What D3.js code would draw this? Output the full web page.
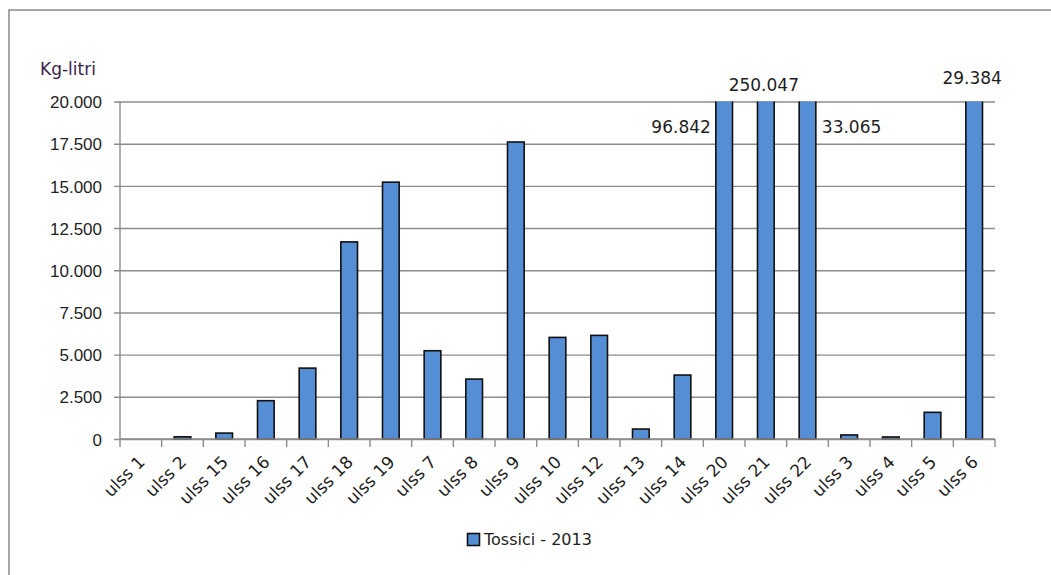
<!DOCTYPE html>
<html><head><meta charset="utf-8">
<script src="https://cdn.jsdelivr.net/npm/d3@7"></script>
<style>
html,body{margin:0;padding:0;background:#fff;}
svg{display:block;font-family:"DejaVu Sans",Verdana,sans-serif;}
</style></head>
<body>
<svg id="chart" width="1051" height="575"></svg>
<script>
const categories = ["ulss 1","ulss 2","ulss 15","ulss 16","ulss 17","ulss 18","ulss 19","ulss 7","ulss 8","ulss 9","ulss 10","ulss 12","ulss 13","ulss 14","ulss 20","ulss 21","ulss 22","ulss 3","ulss 4","ulss 5","ulss 6"];
const values = [0,130,350,2270,4200,11680,15220,5230,3550,17600,6020,6140,590,3790,96842,250047,33065,240,120,1580,29384];
const yTicks = [0,2500,5000,7500,10000,12500,15000,17500,20000];
const seriesName = "Tossici - 2013";
const yTitle = "Kg-litri";
// placement of value labels for bars that exceed the axis maximum
const overflowLabelSide = {"ulss 20":"left","ulss 21":"top","ulss 22":"right","ulss 6":"top"};

const svg = d3.select("#chart");
const M = {left:120, right:995, top:101.5, bottom:439};
const fmt = d3.formatLocale({decimal:",", thousands:".", grouping:[3], currency:["€",""]}).format(",d");

const x = d3.scaleBand().domain(categories).range([M.left, M.right]).paddingInner(0.6).paddingOuter(0.3);
const xb = d3.scaleBand().domain(categories).range([M.left, M.right]);
const y = d3.scaleLinear().domain([0,20000]).range([M.bottom, M.top]);

// outer border
svg.append("rect").attr("x",9).attr("y",10).attr("width",1100).attr("height",600)
  .attr("fill","none").attr("stroke","#8a8a8a").attr("stroke-width",1.5);

// gridlines + y axis
const yAxis = d3.axisLeft(y).tickValues(yTicks).tickSize(M.right-M.left+6).tickFormat(d=>fmt(d)).tickPadding(12);
const gy = svg.append("g").attr("transform",`translate(${M.right},0)`).call(yAxis);
gy.select(".domain").remove();
gy.selectAll(".tick line").attr("stroke","#8c8c8c").attr("stroke-width",1.4);
gy.selectAll(".tick text").attr("font-size",17).attr("fill","#1e1e1e")
  .attr("x",-(M.right-M.left+6)-12+ (M.left-6-102)*0 ).attr("dy","0.36em");
// y-axis vertical line
svg.append("line").attr("x1",M.left).attr("x2",M.left).attr("y1",M.top).attr("y2",M.bottom)
  .attr("stroke","#8c8c8c").attr("stroke-width",1.4);

// clip
svg.append("clipPath").attr("id","plotclip").append("rect")
  .attr("x",M.left).attr("y",M.top).attr("width",M.right-M.left).attr("height",M.bottom-M.top+2);

// bars
svg.append("g").attr("clip-path","url(#plotclip)").selectAll("rect").data(categories).join("rect")
  .attr("x",d=>x(d)).attr("width",x.bandwidth())
  .attr("y",(d,i)=>y(Math.min(values[i],20500)))
  .attr("height",(d,i)=>Math.max(0,M.bottom - y(Math.min(values[i],20500))))
  .attr("fill","#558ed5").attr("stroke","#111").attr("stroke-width",1.6)
  .attr("display",(d,i)=>values[i]>0?null:"none");

// x axis
const xAxis = d3.axisBottom(xb).tickSize(0).tickFormat("");
const gx = svg.append("g").attr("transform",`translate(0,${M.bottom})`).call(xAxis);
gx.select(".domain").attr("stroke","#8c8c8c").attr("stroke-width",1.4).attr("d",`M${M.left},0H${M.right}`);
gx.selectAll(".tick").remove();
const bounds = d3.range(categories.length+1).map(i=>M.left + i*xb.step());
svg.append("g").selectAll("line").data(bounds).join("line")
  .attr("x1",d=>d).attr("x2",d=>d).attr("y1",M.bottom).attr("y2",M.bottom+8)
  .attr("stroke","#8c8c8c").attr("stroke-width",1.4);
svg.append("g").selectAll("text").data(categories).join("text")
  .attr("transform",d=>`translate(${xb(d)+xb.bandwidth()/2+5},${M.bottom+24}) rotate(-45)`)
  .attr("text-anchor","end").attr("font-size",17).attr("fill","#1e1e1e").text(d=>d);

// overflow value labels
categories.forEach((c,i)=>{
  const side = overflowLabelSide[c];
  if(!side) return;
  const cx = x(c)+x.bandwidth()/2;
  const t = svg.append("text").attr("font-size",17).attr("fill","#1e1e1e").text(fmt(values[i]));
  if(side==="left") t.attr("x",x(c)-5).attr("y",y(18500)).attr("text-anchor","end").attr("dy","0.36em");
  else if(side==="right") t.attr("x",x(c)+x.bandwidth()+6).attr("y",y(18500)).attr("text-anchor","start").attr("dy","0.36em");
  else t.attr("x",cx-2).attr("y",c==="ulss 6"?78:85).attr("text-anchor","middle").attr("dy","0.36em");
});

// y title
svg.append("text").attr("x",40).attr("y",75).attr("font-size",17).attr("fill","#3a1d4a").text(yTitle);

// legend
svg.append("rect").attr("x",467.5).attr("y",533.5).attr("width",12).attr("height",12)
  .attr("fill","#558ed5").attr("stroke","#111").attr("stroke-width",1.6);
svg.append("text").attr("x",484).attr("y",545).attr("font-size",16).attr("fill","#1e1e1e").text(seriesName);
</script>
</body></html>
